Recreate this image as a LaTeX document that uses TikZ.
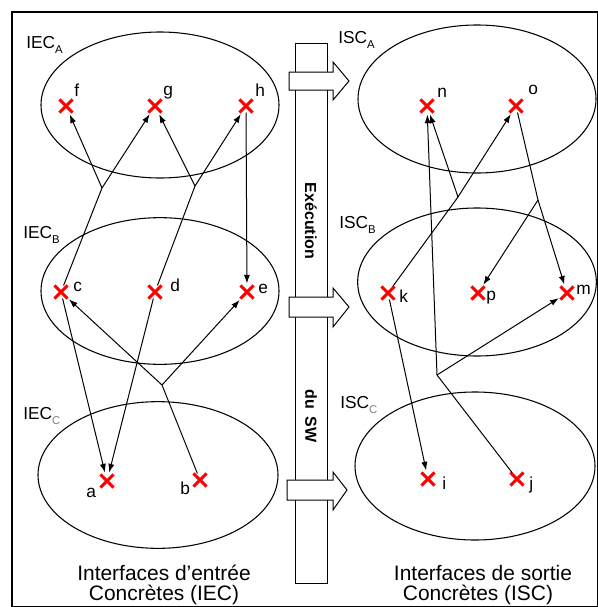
\documentclass[tikz,border=0pt]{standalone}
\usepackage{fontspec}
\setmainfont{Liberation Sans}
\usetikzlibrary{shapes.geometric,shapes.misc,arrows.meta}
% group name with a lowered subscript letter
\newcommand\grplabel[3][black]{#2\raisebox{-4.2pt}{\fontsize{8.5}{8.5}\selectfont\color{#1}#3}}

\begin{document}
\begin{tikzpicture}[x=0.75pt,y=-0.75pt,
  conn/.style={line width=0.75pt},
  arr/.style={conn,-{Latex[length=6.5pt,width=4.6pt]},shorten >=1.5pt},
  xmark/.style={cross out,draw=red,line width=2.3pt,minimum size=7.5pt,inner sep=0pt},
  group/.style={draw,ellipse,line width=0.8pt,inner sep=0pt},
  lbl/.style={font=\fontsize{13}{15}\selectfont,inner sep=0pt,anchor=base west},
  caption/.style={font=\fontsize{15.7}{18}\selectfont,inner sep=0pt,anchor=base},
  bartext/.style={font=\bfseries\fontsize{12}{14}\selectfont,rotate=-90,inner sep=0pt},
  blockarrow/.style={draw,fill=white,line width=0.75pt,line join=miter}]

\useasboundingbox (0,0) rectangle (598,607);
\fill[white] (0,0) rectangle (598,607);
\draw[line width=1.5pt] (12,12) rectangle (598,607);

% ---- groups of interfaces ----
\node[group,minimum width=178.5pt,minimum height=109.5pt] (IECA) at (160,105) {};
\node[group,minimum width=178.5pt,minimum height=110pt]   (IECB) at (160,291) {};
\node[group,minimum width=180pt,minimum height=110pt]     (IECC) at (158,475) {};
\node[group,minimum width=178.5pt,minimum height=111pt]   (ISCA) at (477,99) {};
\node[group,minimum width=179pt,minimum height=111pt]     (ISCB) at (477,282) {};
\node[group,minimum width=180pt,minimum height=111pt]     (ISCC) at (475,466) {};

\node[lbl] (tIECA) at (26,48)  {\grplabel{IEC}{A}};
\node[lbl] (tIECB) at (23,238) {\grplabel{IEC}{B}};
\node[lbl] (tIECC) at (23,419) {\grplabel[gray]{IEC}{C}};
\node[lbl] (tISCA) at (338,43) {\grplabel{ISC}{A}};
\node[lbl] (tISCB) at (339,228) {\grplabel{ISC}{B}};
\node[lbl] (tISCC) at (340,408) {\grplabel[gray]{ISC}{C}};

% ---- execution column ----
\draw[line width=0.75pt] (295,43) rectangle (327,583);
\draw[blockarrow] (289,72) -- (333,72) -- (333,62) -- (349,81) -- (333,100) -- (333,90) -- (289,90) -- cycle;
\draw[blockarrow] (289,297) -- (333,297) -- (333,288) -- (349,307) -- (333,327) -- (333,317) -- (289,317) -- cycle;
\draw[blockarrow] (287,480) -- (333,480) -- (333,472) -- (347,490) -- (333,510) -- (333,500) -- (287,500) -- cycle;
\node[bartext] (exec) at (311,221) {Exécution};
\node[bartext] (sw) at (311,416) {du\hspace{0.5em}SW};

% ---- interface points ----
\node[xmark] (f) at (66,106) {};
\node[xmark] (g) at (155,106) {};
\node[xmark] (h) at (246,106) {};
\node[xmark] (c) at (61,292) {};
\node[xmark] (d) at (155,292) {};
\node[xmark] (e) at (247,292) {};
\node[xmark] (a) at (107,481) {};
\node[xmark] (b) at (200,480) {};
\node[xmark] (n) at (427,106) {};
\node[xmark] (o) at (516,106) {};
\node[xmark] (k) at (388,293) {};
\node[xmark] (p) at (478,293) {};
\node[xmark] (m) at (567,293) {};
\node[xmark] (i) at (428,479) {};
\node[xmark] (j) at (517,479) {};

\node[lbl] (lf) at (74,96)  {f};
\node[lbl] (lg) at (163,95) {g};
\node[lbl] (lh) at (255,96) {h};
\node[lbl] (lc) at (73,291) {c};
\node[lbl] (ld) at (170,291) {d};
\node[lbl] (le) at (258,293) {e};
\node[lbl] (la) at (86,497) {a};
\node[lbl] (lb) at (180,494) {b};
\node[lbl] (ln) at (437,97) {n};
\node[lbl] (lo) at (528,94) {o};
\node[lbl] (lk) at (399,302) {k};
\node[lbl] (lp) at (486,300) {p};
\node[lbl] (lm) at (576,294) {m};
\node[lbl] (li) at (442,489) {i};
\node[lbl] (lj) at (529,489) {j};

% ---- branch points ----
\coordinate (J1) at (102,188);
\coordinate (J2) at (195,186);
\coordinate (J3) at (162,385);
\coordinate (J4) at (458,197);
\coordinate (J5) at (538,200);
\coordinate (J6) at (437,375);

% ---- dependencies, input side ----
\draw[conn] (c) -- (J1);
\draw[arr] (J1) -- (f);
\draw[arr] (J1) -- (g);
\draw[conn] (d) -- (J2);
\draw[arr] (J2) -- (g);
\draw[arr] (J2) -- (h);
\draw[arr] (h) -- (e);
\draw[arr] (c) -- (a);
\draw[arr] (d) -- (a);
\draw[conn] (b) -- (J3);
\draw[arr] (J3) -- (c);
\draw[arr] (J3) -- (e);

% ---- dependencies, output side ----
\draw[conn] (k) -- (J4);
\draw[arr] (J4) -- (o);
\draw[arr] (J4) -- (n);
\draw[conn] (o) -- (J5);
\draw[arr] (J5) -- (p);
\draw[arr] (J5) -- (m);
\draw[conn] (j) -- (J6);
\draw[arr] (J6) -- (n);
\draw[arr] (J6) -- (m);
\draw[arr] (k) -- (i);

% ---- captions ----
\node[caption] (capL1) at (164,580) {Interfaces d'entrée};
\node[caption] (capL2) at (164,600) {Concrètes (IEC)};
\node[caption] (capR1) at (483,580) {Interfaces de sortie};
\node[caption] (capR2) at (478,600) {Concrètes (ISC)};
\end{tikzpicture}
\end{document}
